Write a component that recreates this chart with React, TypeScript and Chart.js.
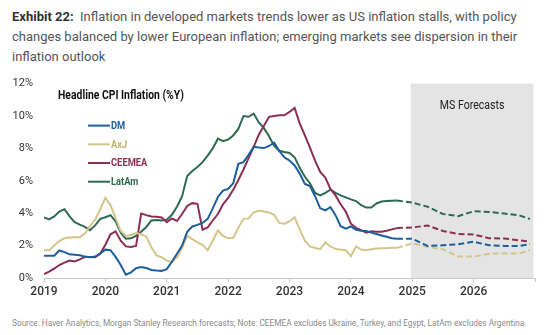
import React, { useEffect, useRef } from 'react';
import { Chart, registerables } from 'chart.js';

Chart.register(...registerables);

// ---- Data (monthly index: 0 = Jan 2019) ----
const START_YEAR = 2019;
const AXIS_MAX_MONTH = 96; // Jan 2027
const YEAR_TICKS = [2019, 2020, 2021, 2022, 2023, 2024, 2025, 2026];
const Y_MAX = 12;

const DM_ACTUAL = [
  1.38, 1.38, 1.38, 1.70, 1.60, 1.46, 1.44, 1.40, 1.32, 1.28, 1.32, 1.52,
  1.75, 1.72, 1.30, 0.80, 0.20, 0.35, 0.60, 0.68, 0.62, 0.50, 0.46, 0.44,
  0.55, 1.00, 1.50, 2.00, 2.85, 3.18, 3.28, 3.40, 3.65, 4.30, 5.00, 5.40,
  5.50, 5.85, 7.05, 7.15, 7.60, 8.10, 8.05, 8.02, 8.15, 8.35, 7.85, 7.45,
  7.25, 6.95, 6.45, 5.80, 5.68, 5.05, 4.30, 4.18, 4.38, 3.88, 3.20, 3.05,
  3.18, 2.98, 2.92, 2.90, 2.80, 2.72, 2.62, 2.55, 2.45, 2.42,
];
const AXJ_ACTUAL = [
  1.72, 1.72, 2.00, 2.28, 2.45, 2.50, 2.52, 2.52, 2.75, 3.20, 3.60, 4.25,
  4.95, 4.50, 3.70, 2.90, 2.60, 2.65, 2.78, 2.70, 2.55, 1.90, 1.40, 1.28,
  1.08, 0.98, 1.28, 1.85, 2.60, 2.40, 2.20, 2.05, 1.72, 2.30, 2.95, 2.60,
  2.45, 2.48, 3.10, 3.65, 3.68, 4.05, 4.15, 4.10, 4.05, 3.90, 3.40, 3.35,
  3.50, 3.75, 3.00, 2.30, 1.95, 1.85, 1.78, 2.20, 1.95, 1.80, 1.75, 1.72,
  1.35, 1.95, 1.75, 1.72, 1.78, 1.82, 1.84, 1.84, 1.86, 1.86,
];
const CEEMEA_ACTUAL = [
  0.24, 0.40, 0.58, 0.80, 0.95, 1.08, 1.02, 1.15, 1.30, 1.30, 1.28, 1.50,
  2.05, 2.70, 2.88, 2.30, 1.95, 1.92, 1.98, 3.98, 3.88, 3.80, 3.78, 3.74,
  3.45, 3.68, 3.52, 3.95, 4.45, 4.62, 4.58, 2.98, 3.12, 3.55, 3.95, 4.55,
  4.95, 5.45, 6.05, 6.70, 7.40, 8.10, 8.85, 9.40, 9.95, 10.00, 10.04, 10.04,
  10.25, 10.50, 9.55, 8.80, 8.05, 7.25, 6.55, 6.20, 5.50, 5.10, 4.55, 4.10,
  3.35, 3.10, 2.95, 2.80, 2.88, 2.85, 2.86, 2.92, 3.00, 3.08,
];
const LATAM_ACTUAL = [
  3.74, 3.62, 3.80, 4.10, 4.25, 3.80, 3.45, 3.30, 3.15, 2.95, 3.25, 3.65,
  3.75, 3.88, 3.50, 2.80, 2.42, 2.45, 2.60, 2.85, 3.15, 3.55, 3.58, 3.55,
  3.60, 3.90, 4.40, 5.05, 6.30, 6.60, 6.85, 7.15, 7.55, 8.00, 8.60, 8.45,
  8.55, 8.80, 9.20, 10.00, 9.95, 10.15, 9.60, 9.25, 8.75, 8.15, 7.85, 7.78,
  7.72, 7.45, 6.80, 6.25, 5.85, 5.25, 5.10, 5.25, 5.45, 5.25, 5.10, 4.98,
  4.85, 4.75, 4.50, 4.35, 4.35, 4.60, 4.72, 4.75, 4.77, 4.78,
];

const FORECAST_MONTHS = [69, 72, 75, 78, 81, 84, 87, 90, 93, 95];
const DM_FORECAST = [2.42, 2.42, 1.98, 2.02, 2.08, 2.24, 2.02, 1.98, 1.98, 2.08];
const AXJ_FORECAST = [1.86, 2.14, 1.92, 1.78, 1.32, 1.32, 1.50, 1.52, 1.52, 1.72];
const CEEMEA_FORECAST = [3.08, 3.12, 3.24, 2.90, 2.72, 2.68, 2.46, 2.44, 2.32, 2.24];
const LATAM_FORECAST = [4.78, 4.65, 4.40, 3.95, 3.82, 4.12, 4.08, 3.98, 3.86, 3.64];

const FORECAST_BOX_START = 71.7;
const FORECAST_BOX_END = 95.7;

const SERIES_NAMES = ['DM', 'AxJ', 'CEEMEA', 'LatAm'];
const SERIES_COLORS = ['#1d5e9e', '#d4c58a', '#8b2f55', '#2e6a50'];
const LEGEND_TEXT_COLORS = ['#1d5e9e', '#c2b36a', '#8b2f55', '#2e6a50'];
const ACTUALS = [DM_ACTUAL, AXJ_ACTUAL, CEEMEA_ACTUAL, LATAM_ACTUAL];
const FORECASTS = [DM_FORECAST, AXJ_FORECAST, CEEMEA_FORECAST, LATAM_FORECAST];

const FONT = 'Roboto, "Noto Sans", sans-serif';

function fitText(ctx: CanvasRenderingContext2D, text: string, x: number, y: number, sx: number) {
  ctx.save();
  ctx.translate(x, y);
  ctx.scale(sx, 1);
  ctx.fillText(text, 0, 0);
  ctx.restore();
}

const overlayPlugin = {
  id: 'overlay',
  beforeDraw(chart: any) {
    const { ctx, scales } = chart;
    const x = scales.x, y = scales.y;
    const x1 = x.getPixelForValue(FORECAST_BOX_START);
    const x2 = x.getPixelForValue(FORECAST_BOX_END);
    const t = y.getPixelForValue(Y_MAX);
    const b = y.getPixelForValue(0);
    ctx.save();
    ctx.fillStyle = '#e4e4e4';
    ctx.fillRect(x1, t, x2 - x1, b - t);
    ctx.restore();
  },
  afterDraw(chart: any) {
    const { ctx, chartArea, scales } = chart;
    const x = scales.x;
    ctx.save();
    // forecast label
    const cx = (x.getPixelForValue(FORECAST_BOX_START) + x.getPixelForValue(FORECAST_BOX_END)) / 2;
    ctx.fillStyle = '#222';
    ctx.font = `12px ${FONT}`;
    ctx.textBaseline = 'middle';
    const label = 'MS Forecasts';
    const sxF = 0.88;
    const w = ctx.measureText(label).width * sxF;
    fitText(ctx, label, cx - w / 2, chartArea.top + 22, sxF);

    // headline
    ctx.font = `bold 13px ${FONT}`;
    ctx.fillStyle = '#111';
    fitText(ctx, 'Headline CPI Inflation (%Y)', chartArea.left + 14, chartArea.top + 12, 0.8);

    // legend
    for (let i = 0; i < SERIES_NAMES.length; i++) {
      const ly = chartArea.top + 42 + i * 18.7;
      ctx.strokeStyle = SERIES_COLORS[i];
      ctx.lineWidth = 2;
      ctx.beginPath();
      ctx.moveTo(chartArea.left + 44, ly);
      ctx.lineTo(chartArea.left + 66, ly);
      ctx.stroke();
      ctx.font = `bold 11px ${FONT}`;
      ctx.fillStyle = LEGEND_TEXT_COLORS[i];
      fitText(ctx, SERIES_NAMES[i], chartArea.left + 67, ly + 0.5, 0.85);
    }
    ctx.restore();
  },
};

export default function App() {
  const ref = useRef<HTMLCanvasElement | null>(null);

  useEffect(() => {
    if (!ref.current) return;
    const datasets: any[] = [];
    for (let i = 0; i < SERIES_NAMES.length; i++) {
      datasets.push({
        label: SERIES_NAMES[i],
        data: ACTUALS[i].map((v, m) => ({ x: m, y: v })),
        borderColor: SERIES_COLORS[i],
        borderWidth: 2,
        pointRadius: 0,
        tension: 0,
        fill: false,
      });
    }
    for (let i = 0; i < SERIES_NAMES.length; i++) {
      datasets.push({
        label: SERIES_NAMES[i] + ' forecast',
        data: FORECASTS[i].map((v, k) => ({ x: FORECAST_MONTHS[k], y: v })),
        borderColor: SERIES_COLORS[i],
        borderWidth: 2,
        borderDash: [6, 3],
        pointRadius: 0,
        tension: 0,
        fill: false,
      });
    }

    const chart = new Chart(ref.current, {
      type: 'line',
      data: { datasets },
      plugins: [overlayPlugin],
      options: {
        animation: false,
        responsive: false,
        maintainAspectRatio: false,
        layout: { padding: { top: 12, right: 15, bottom: 6, left: 0 } },
        plugins: { legend: { display: false }, tooltip: { enabled: false }, title: { display: false } },
        scales: {
          x: {
            type: 'linear',
            min: 0,
            max: AXIS_MAX_MONTH,
            afterFit: (s: any) => { s.height = 26; },
            afterBuildTicks: (s: any) => {
              s.ticks = [...YEAR_TICKS.map((yr) => ({ value: (yr - START_YEAR) * 12 })), { value: AXIS_MAX_MONTH }];
            },
            ticks: {
              autoSkip: false,
              maxRotation: 0,
              padding: 3,
              color: '#333',
              font: { family: FONT, size: 12, weight: 500 },
              callback: (v: any) => {
                const yr = START_YEAR + Number(v) / 12;
                return YEAR_TICKS.includes(yr) ? String(yr) : '';
              },
            },
            grid: { drawOnChartArea: false, drawTicks: true, tickLength: 4, color: '#c8c8c8' },
            border: { display: true, color: '#c8c8c8', width: 1 },
          },
          y: {
            min: 0,
            max: Y_MAX,
            afterFit: (s: any) => { s.width = 44; },
            ticks: {
              stepSize: 2,
              padding: 11,
              color: '#333',
              font: { family: FONT, size: 11 },
              callback: (v: any) => `${v}%`,
            },
            grid: { display: false, drawTicks: false },
            border: { display: false },
          },
        },
      },
    });
    return () => chart.destroy();
  }, []);

  return (
    <div style={{ position: 'fixed', left: 0, top: 0, width: 550, height: 335, background: '#fff', overflow: 'hidden' }}>
      <div
        style={{
          position: 'absolute', left: 12, top: 7, whiteSpace: 'pre', fontFamily: FONT,
          fontSize: 13, lineHeight: '20px', color: '#555',
        }}
      >
        <span style={{ fontWeight: 700, color: '#333' }}>Exhibit 22:</span>
        {'  Inflation in developed markets trends lower as US inflation stalls, with policy\nchanges balanced by lower European inflation; emerging markets see dispersion in their\ninflation outlook'}
      </div>
      <canvas ref={ref} width={550} height={244} style={{ position: 'absolute', left: 0, top: 66, width: 550, height: 244 }} />
      <div
        style={{
          position: 'absolute', left: 12, top: 317, whiteSpace: 'pre', fontFamily: FONT,
          fontSize: 8.3, lineHeight: '12px', color: '#8a8a8a',
        }}
      >
        Source: Haver Analytics, Morgan Stanley Research forecasts; Note: CEEMEA excludes Ukraine, Turkey, and Egypt, LatAm excludes Argentina.
      </div>
    </div>
  );
}
